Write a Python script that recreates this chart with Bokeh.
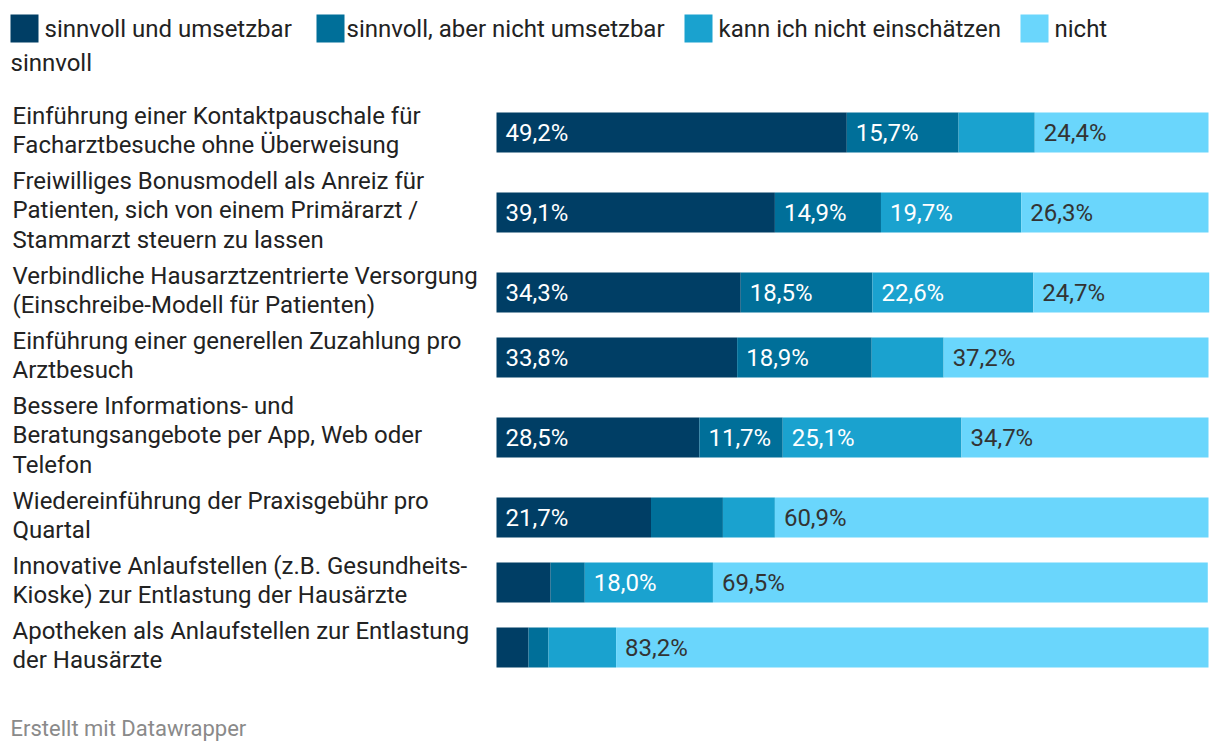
from bokeh.plotting import figure
from bokeh.models import Range1d, ColumnDataSource
from bokeh.core.properties import value
from bokeh.embed import file_html
from bokeh.resources import INLINE

# ---------------- data ----------------
categories = [
    "Einführung einer Kontaktpauschale für\nFacharztbesuche ohne Überweisung",
    "Freiwilliges Bonusmodell als Anreiz für\nPatienten, sich von einem Primärarzt /\nStammarzt steuern zu lassen",
    "Verbindliche Hausarztzentrierte Versorgung\n(Einschreibe-Modell für Patienten)",
    "Einführung einer generellen Zuzahlung pro\nArztbesuch",
    "Bessere Informations- und\nBeratungsangebote per App, Web oder\nTelefon",
    "Wiedereinführung der Praxisgebühr pro\nQuartal",
    "Innovative Anlaufstellen (z.B. Gesundheits-\nKioske) zur Entlastung der Hausärzte",
    "Apotheken als Anlaufstellen zur Entlastung\nder Hausärzte",
]
series_names = ["sinnvoll und umsetzbar", "sinnvoll, aber nicht umsetzbar",
                "kann ich nicht einschätzen", "nicht sinnvoll"]
sinnvoll_umsetzbar = [49.2, 39.1, 34.3, 33.8, 28.5, 21.7, 7.6, 4.5]
sinnvoll_nicht_umsetzbar = [15.7, 14.9, 18.5, 18.9, 11.7, 10.1, 4.8, 2.8]
nicht_einschaetzbar = [10.7, 19.7, 22.6, 10.1, 25.1, 7.3, 18.0, 9.5]
nicht_sinnvoll = [24.4, 26.3, 24.7, 37.2, 34.7, 60.9, 69.5, 83.2]
series = [sinnvoll_umsetzbar, sinnvoll_nicht_umsetzbar, nicht_einschaetzbar, nicht_sinnvoll]

colors = ["#003e65", "#006f99", "#1aa2cf", "#6ad6fc"]
label_colors = ["#ffffff", "#ffffff", "#ffffff", "#333333"]

# ---------------- layout ----------------
W, H = 1220, 754
BAR_LEFT_PX, BAR_RIGHT_PX = 496, 1208
ppu = (BAR_RIGHT_PX - BAR_LEFT_PX) / 100.0
x_start = -BAR_LEFT_PX / ppu
x_end = x_start + W / ppu


def px2x(px):
    return x_start + px / ppu


p = figure(width=W, height=H, output_backend="svg", toolbar_location=None,
           x_range=Range1d(x_start, x_end), y_range=Range1d(H, 0),
           min_border=0, outline_line_color=None,
           x_axis_location=None, y_axis_location=None)
p.grid.visible = False
p.background_fill_color = "white"
p.border_fill_color = "white"

FONT = value("Roboto")
FS = "24px"

# row centres derived from number of label lines
row_y = []
top = 99.5
for c in categories:
    n = c.count("\n") + 1
    h = n * 30 + 5
    row_y.append(top + h / 2)
    top += h

# bars
lefts = [0.0] * len(categories)
for k, vals in enumerate(series):
    rights = [l + v for l, v in zip(lefts, vals)]
    src = ColumnDataSource(dict(y=row_y, left=lefts, right=rights, v=vals,
                                lab=[f"{v:.1f}%".replace(".", ",") if v >= 11 else "" for v in vals]))
    p.hbar(y="y", left="left", right="right", height=40, source=src,
           fill_color=colors[k], line_color=None)
    p.text(x="left", y="y", text="lab", source=src, x_offset=9,
           text_font=FONT, text_font_size=FS, text_color=label_colors[k],
           text_baseline="middle", text_align="left")
    lefts = rights

# category labels
p.text(x=[px2x(12)] * len(categories), y=row_y, text=categories, y_offset=-2,
       text_font=FONT, text_font_size=FS, text_color="#222222",
       text_baseline="middle", text_align="left", text_line_height=1.05)

# legend (manual, wrapping like the reference)
sq_x = [24, 330, 698, 1034]
txt_x = [44, 346, 718, 1054]
leg_y = 28
p.scatter(x=[px2x(v) for v in sq_x], y=[leg_y] * 4, marker="square", size=28,
          fill_color=colors, line_color=None)
leg_text = series_names[:3] + [series_names[3].split(" ")[0]]
p.text(x=[px2x(v) for v in txt_x], y=[leg_y] * 4, text=leg_text,
       text_font=FONT, text_font_size=FS, text_color="#222222",
       text_baseline="middle", text_align="left")
p.text(x=[px2x(10)], y=[62], text=[series_names[3].split(" ")[1]],
       text_font=FONT, text_font_size=FS, text_color="#222222",
       text_baseline="middle", text_align="left")

# footer
p.text(x=[px2x(10)], y=[728], text=["Erstellt mit Datawrapper"],
       text_font=FONT, text_font_size="22px", text_color="#8a8a8a",
       text_baseline="middle", text_align="left")

open("out.html", "w").write(file_html(p, INLINE))
